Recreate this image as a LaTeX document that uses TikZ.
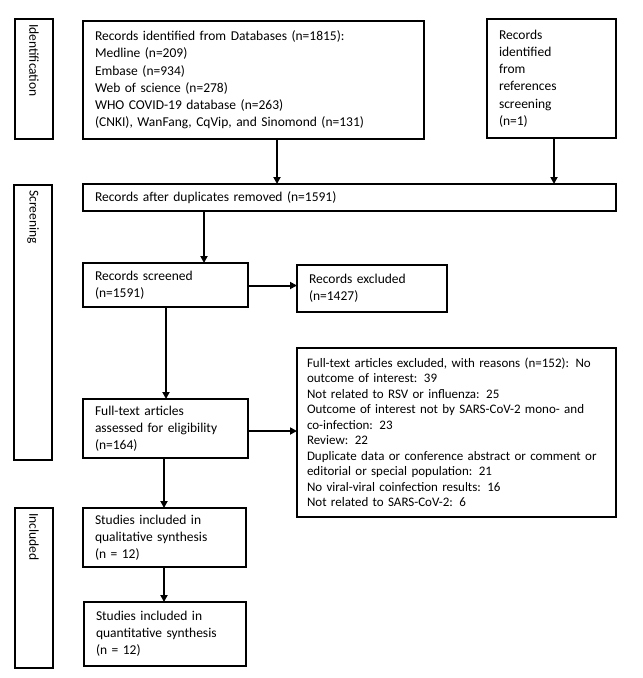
\documentclass[tikz,border=0pt]{standalone}
\usepackage{fontspec}
\setmainfont{Carlito}
\usetikzlibrary{arrows.meta}
\begin{document}
\begin{tikzpicture}[x=1pt,y=-1pt,
  box/.style n args={3}{draw, line width=1.8pt, anchor=north west, inner xsep=12pt, inner ysep=0pt, outer sep=0pt, align=left, font=\fontsize{13.5}{17.2}\selectfont, minimum width=#1pt, minimum height=#2pt, text width=#3pt},
  side/.style n args={2}{draw, line width=1.8pt, anchor=north west, outer sep=0pt, inner sep=0pt, minimum width=#1pt, minimum height=#2pt},
  lab/.style={rotate=-90, anchor=west, font=\fontsize{13.5}{17}\selectfont, inner sep=0pt},
  arr/.style={line width=2pt, -{Triangle[length=7pt,width=7pt]}}]
\useasboundingbox (0,0) rectangle (643,678);
% side labels
\node[side={38}{120}] (idbox) at (15,19) {};
\node[lab] (idlab) at ([yshift=-5pt]idbox.north) {Identification};
\node[side={38}{275}] (scbox) at (14,185) {};
\node[lab] (sclab) at ([yshift=-5pt]scbox.north) {Screening};
\node[side={38}{160}] (inbox) at (15,508) {};
\node[lab] (inlab) at ([yshift=-5pt]inbox.north) {Included};
% boxes
\node[box={341}{118}{317}] (db) at (83,21) {Records identified from Databases (n=1815):\\Medline (n=209)\\Embase (n=934)\\Web of science (n=278)\\WHO COVID-19 database (n=263)\\(CNKI), WanFang, CqVip, and Sinomond (n=131)};
\node[box={129}{119}{105}] (ref) at (487,19) {Records\\identified\\from\\references\\screening\\(n=1)};
\node[box={533}{27}{509}] (dup) at (83,184) {Records after duplicates removed (n=1591)};
\node[box={165}{44}{141}] (scr) at (83,263) {Records screened\\(n=1591)};
\node[box={150}{47}{126}] (exc) at (297,265) {Records excluded\\(n=1427)};
\node[box={165}{59}{141}] (ft) at (83,399) {Full-text articles\\assessed for eligibility\\(n=164)};
\node[box={319}{169}{299}, inner xsep=10pt, font=\fontsize{13}{15.5}\selectfont] (rsn) at (297,348) {Full-text articles excluded, with reasons (n=152): No\\outcome of interest: 39\\Not related to RSV or influenza: 25\\Outcome of interest not by SARS-CoV-2 mono- and\\co-infection: 23\\Review: 22\\Duplicate data or conference abstract or comment or\\editorial or special population: 21\\No viral-viral coinfection results: 16\\Not related to SARS-CoV-2: 6};
\node[box={163}{59}{139}] (qual) at (83,508) {Studies included in\\qualitative synthesis\\(n = 12)};
\node[box={162}{64}{138}] (quant) at (84,602) {Studies included in\\quantitative synthesis\\(n = 12)};
% arrows
\draw[arr] ([xshift=23.5pt]db.south) -- ([xshift=23.5pt]db.south |- dup.north);
\draw[arr] ([xshift=2.5pt]ref.south) -- ([xshift=2.5pt]ref.south |- dup.north);
\draw[arr] ([xshift=121pt]dup.south west) -- ([xshift=121pt]dup.south west |- scr.north);
\draw[arr] ([yshift=-0.5pt]scr.east) -- ([yshift=-0.5pt]scr.east -| exc.west);
\draw[arr] ([xshift=0.5pt]scr.south) -- ([xshift=0.5pt]scr.south |- ft.north);
\draw[arr] ([yshift=-2.5pt]ft.east) -- ([yshift=-2.5pt]ft.east -| rsn.west);
\draw[arr] ([xshift=-0.5pt]qual.north |- ft.south) -- ([xshift=-0.5pt]qual.north);
\draw[arr] ([xshift=-0.5pt]qual.south) -- ([xshift=-0.5pt]qual.south |- quant.north);
\end{tikzpicture}
\end{document}
